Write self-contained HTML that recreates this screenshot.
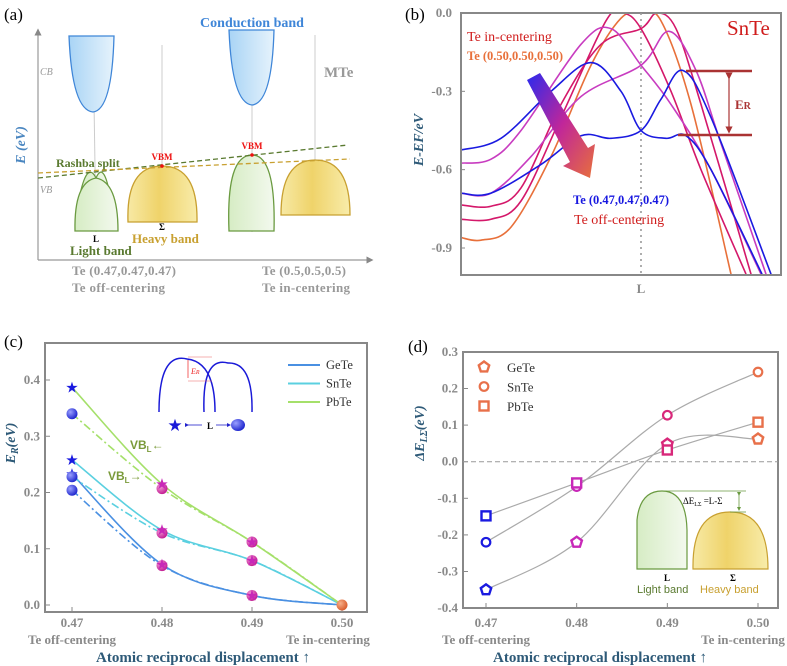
<!DOCTYPE html>
<html><head><meta charset="utf-8">
<style>
body{margin:0;background:#fff}
svg{display:block;font-family:"Liberation Serif",serif}
.tk{fill:#8a8a8a;font-weight:bold;font-size:13px}
.ttl{fill:#2e5a78;font-weight:bold;font-size:14px}
</style></head>
<body>
<svg id="fig" width="787" height="666" viewBox="0 0 787 666">
<defs>
<linearGradient id="cbg" x1="0" x2="1"><stop offset="0" stop-color="#a9d4f5"/><stop offset="1" stop-color="#e6f3fc"/></linearGradient>
<linearGradient id="lbg" x1="0" x2="1"><stop offset="0" stop-color="#d6ecc4"/><stop offset="1" stop-color="#f3f9ee"/></linearGradient>
<linearGradient id="hbg" x1="0" x2="1"><stop offset="0" stop-color="#f7e9a5"/><stop offset="0.45" stop-color="#efd36a"/><stop offset="1" stop-color="#f8ecaa"/></linearGradient>
<linearGradient id="arg" x1="0" y1="0" x2="1" y2="1"><stop offset="0" stop-color="#2a2aee"/><stop offset="0.5" stop-color="#c0269a"/><stop offset="1" stop-color="#e8703a"/></linearGradient>
<radialGradient id="sph" cx="0.35" cy="0.35" r="0.7"><stop offset="0" stop-color="#9aa0ff"/><stop offset="1" stop-color="#1a22cc"/></radialGradient>
<radialGradient id="sphm" cx="0.35" cy="0.35" r="0.7"><stop offset="0" stop-color="#f39ad6"/><stop offset="1" stop-color="#c01890"/></radialGradient>
<radialGradient id="spho" cx="0.35" cy="0.35" r="0.7"><stop offset="0" stop-color="#f7b08a"/><stop offset="1" stop-color="#d85a2a"/></radialGradient>
<marker id="ah" markerWidth="6" markerHeight="6" refX="3" refY="3" orient="auto"><path d="M0,0L6,3L0,6z" fill="#a33"/></marker>
<marker id="ahb" markerWidth="5" markerHeight="5" refX="2.5" refY="2.5" orient="auto"><path d="M0,0L5,2.5L0,5z" fill="#22c"/></marker>
<marker id="ahg" markerWidth="5" markerHeight="5" refX="2.5" refY="2.5" orient="auto"><path d="M0,0L5,2.5L0,5z" fill="#6a9a40"/></marker>
<marker id="ahgray" markerWidth="6" markerHeight="6" refX="3" refY="3" orient="auto"><path d="M0,0L6,3L0,6z" fill="#888"/></marker>
</defs>

<!-- ===== Panel (a) ===== -->
<g>
<text x="4" y="20" font-size="17">(a)</text>
<line x1="38" y1="260" x2="38" y2="32" stroke="#999" stroke-width="1.2" marker-end="url(#ahgray)"/>
<line x1="38" y1="260" x2="370" y2="260" stroke="#999" stroke-width="1.2" marker-end="url(#ahgray)"/>
<text transform="translate(25,145) rotate(-90)" text-anchor="middle" class="ttl" style="font-style:italic;fill:#4a86c0">E (eV)</text>
<text x="40" y="75" font-size="10" font-style="italic" fill="#999">CB</text>
<text x="40" y="193" font-size="10" font-style="italic" fill="#999">VB</text>
<text x="252" y="27" text-anchor="middle" font-size="14" font-weight="bold" fill="#3f86d8">Conduction band</text>
<text x="324" y="77" font-size="15" font-weight="bold" fill="#999">MTe</text>
<g stroke="#ccc" stroke-width="1">
<line x1="93" y1="36" x2="96" y2="232"/><line x1="162" y1="45" x2="162" y2="222"/><line x1="252" y1="30" x2="252" y2="232"/><line x1="315" y1="35" x2="315" y2="215"/>
</g>
<path d="M69,36 L114,36 Q112,110 93,112 Q72,110 69,36Z" fill="url(#cbg)" stroke="#3f86d8" stroke-width="1.3"/>
<path d="M229,30 L274,30 Q272,103 252,105 Q232,103 229,30Z" fill="url(#cbg)" stroke="#3f86d8" stroke-width="1.3"/>
<path d="M81,190 Q88,162 96,178 Q103,162 109,190Z" fill="url(#lbg)" stroke="#6a9a40" stroke-width="1.2"/>
<path d="M75,231 Q74,182 96,178 Q118,182 118,231Z" fill="url(#lbg)" stroke="#6a9a40" stroke-width="1.3"/>
<path d="M128,222 Q126,166 162,166 Q198,166 197,222Z" fill="url(#hbg)" stroke="#c8a030" stroke-width="1.3"/>
<path d="M229,231 Q226,155 252,155 Q276,155 274,231Z" fill="url(#lbg)" stroke="#6a9a40" stroke-width="1.3"/>
<path d="M281,215 Q281,160 315,160 Q350,160 350,215Z" fill="url(#hbg)" stroke="#c8a030" stroke-width="1.3"/>
<line x1="38" y1="178" x2="348" y2="145" stroke="#5a7a30" stroke-width="1.3" stroke-dasharray="5,3"/>
<line x1="38" y1="173" x2="350" y2="159" stroke="#c8a030" stroke-width="1.3" stroke-dasharray="5,3"/>
<circle cx="162" cy="166" r="1.8" fill="#e11"/><circle cx="252" cy="155" r="1.8" fill="#e11"/>
<text x="162" y="160" text-anchor="middle" font-size="9" font-weight="bold" fill="#e11">VBM</text>
<text x="252" y="149" text-anchor="middle" font-size="9" font-weight="bold" fill="#e11">VBM</text>
<text x="56" y="167" font-size="12" font-weight="bold" fill="#5a7a30">Rashba split</text>
<text x="96" y="242" text-anchor="middle" font-size="9" font-weight="bold">L</text>
<text x="162" y="230" text-anchor="middle" font-size="9" font-weight="bold">Σ</text>
<text x="132" y="243" font-size="13" font-weight="bold" fill="#c8a030">Heavy band</text>
<text x="70" y="255" font-size="13" font-weight="bold" fill="#5a7a30">Light band</text>
<g font-size="13" font-weight="bold" fill="#999">
<text x="72" y="275" textLength="104">Te (0.47,0.47,0.47)</text>
<text x="72" y="292" textLength="93">Te off-centering</text>
<text x="262" y="275" textLength="84">Te (0.5,0.5,0.5)</text>
<text x="262" y="292" textLength="88">Te in-centering</text>
</g>
</g>

<!-- ===== Panel (b) ===== -->
<g>
<text x="405" y="20" font-size="17">(b)</text>
<defs><clipPath id="clipb"><rect x="461" y="13" width="320" height="262"/></clipPath></defs>
<g id="bcurves" clip-path="url(#clipb)"></g>
<rect x="461" y="13" width="320" height="262" fill="none" stroke="#888" stroke-width="2"/>
<line x1="641" y1="13" x2="641" y2="275" stroke="#999" stroke-width="1.6" stroke-dasharray="2,4"/>
<g id="bticks"></g>
<text x="641" y="293" text-anchor="middle" class="tk">L</text>
<text transform="translate(423,140) rotate(-90)" text-anchor="middle" class="ttl" font-style="italic">E-EF/eV</text>
<text x="727" y="35" font-size="21" fill="#d01c1c">SnTe</text>
<text x="467" y="41" font-size="14" fill="#d01c1c">Te in-centering</text>
<text x="467" y="60" font-size="12.5" font-weight="bold" fill="#e8703a">Te (0.50,0.50,0.50)</text>
<text x="573" y="204" font-size="12.5" font-weight="bold" fill="#1818e0">Te (0.47,0.47,0.47)</text>
<text x="574" y="224" font-size="14" fill="#d01c1c">Te off-centering</text>
<path d="M527,80 L540,73 L588,148 L595,144 L590,178 L563,166 L570,162 Z" fill="url(#arg)"/>
<line x1="686" y1="71" x2="752" y2="71" stroke="#a33" stroke-width="2.5"/>
<line x1="678" y1="135" x2="752" y2="135" stroke="#a33" stroke-width="2.5"/>
<line x1="729" y1="76" x2="729" y2="130" stroke="#a33" stroke-width="1.2" marker-start="url(#ah)" marker-end="url(#ah)"/>
<text x="735" y="109" font-size="13" font-weight="bold" fill="#a33">E<tspan font-size="10">R</tspan></text>
</g>

<!-- ===== Panel (c) ===== -->
<g>
<text x="4" y="347" font-size="17">(c)</text>
<rect x="45" y="343" width="322" height="269" fill="none" stroke="#888" stroke-width="2"/>
<g id="cplot"></g>
<text transform="translate(15,443) rotate(-90)" text-anchor="middle" class="ttl" font-style="italic">E<tspan font-size="10" dy="3">R</tspan><tspan dy="-3">(eV)</tspan></text>
<text x="72" y="644" text-anchor="middle" class="tk">Te off-centering</text>
<text x="328" y="644" text-anchor="middle" class="tk">Te in-centering</text>
<text x="203" y="662" text-anchor="middle" class="ttl" font-size="15" style="font-size:15px">Atomic reciprocal displacement ↑</text>
<g>
<path d="M159,412 Q159,352 187,359 Q215,362 215,412" fill="none" stroke="#1a1ad8" stroke-width="1.5"/>
<path d="M204,412 Q202,356 228,363 Q253,362 252,412" fill="none" stroke="#1a1ad8" stroke-width="1.5"/>
<line x1="188" y1="357" x2="212" y2="357" stroke="#e66" stroke-width="0.6"/><line x1="188" y1="381" x2="212" y2="381" stroke="#e66" stroke-width="0.6"/>
<line x1="188" y1="360" x2="188" y2="378" stroke="#e22" stroke-width="0.7"/>
<text x="191" y="374" font-size="8" font-style="italic" fill="#e22">E<tspan font-size="6">R</tspan></text>
<text x="175" y="431" text-anchor="middle" font-size="17" fill="#1a1ad8">★</text>
<line x1="187" y1="425" x2="202" y2="425" stroke="#22c" stroke-width="0.8" marker-start="url(#ahb)"/>
<text x="210" y="429" text-anchor="middle" font-size="9" font-weight="bold">L</text>
<line x1="216" y1="425" x2="229" y2="425" stroke="#22c" stroke-width="0.8" marker-end="url(#ahb)"/>
<ellipse cx="238" cy="425" rx="7" ry="6" fill="url(#sph)"/>
</g>
<text x="130" y="449" font-size="12" font-weight="bold" fill="#7a9a3a" font-family="Liberation Sans">VB<tspan font-size="8" dy="3">L</tspan><tspan dy="-3">←</tspan></text>
<text x="108" y="480" font-size="12" font-weight="bold" fill="#7a9a3a" font-family="Liberation Sans">VB<tspan font-size="8" dy="3">L</tspan><tspan dy="-3">→</tspan></text>
<g id="clegend"></g>
</g>

<!-- ===== Panel (d) ===== -->
<g>
<text x="408" y="352" font-size="17">(d)</text>
<rect x="463" y="352" width="315" height="256" fill="none" stroke="#888" stroke-width="2"/>
<g id="dplot"></g>
<text transform="translate(424,433) rotate(-90)" text-anchor="middle" class="ttl" font-style="italic">ΔE<tspan font-size="10" dy="3">LΣ</tspan><tspan dy="-3">(eV)</tspan></text>
<text x="486" y="644" text-anchor="middle" class="tk">Te off-centering</text>
<text x="743" y="644" text-anchor="middle" class="tk">Te in-centering</text>
<text x="600" y="662" text-anchor="middle" class="ttl" style="font-size:15px">Atomic reciprocal displacement ↑</text>
<g>
<path d="M637,569 L637,520 Q640,491 662,491 Q686,491 687,530 L687,569Z" fill="url(#lbg)" stroke="#6a9a40" stroke-width="1.2"/>
<path d="M693,569 Q692,512 730,512 Q768,512 768,569Z" fill="url(#hbg)" stroke="#c8a030" stroke-width="1.2"/>
<line x1="662" y1="491" x2="746" y2="491" stroke="#6a9a40" stroke-width="0.8"/>
<line x1="730" y1="512" x2="746" y2="512" stroke="#6a9a40" stroke-width="0.8"/>
<line x1="739" y1="494" x2="739" y2="509" stroke="#6a9a40" stroke-width="0.8" marker-start="url(#ahg)" marker-end="url(#ahg)"/>
<text x="683" y="504" font-size="9">ΔE<tspan font-size="6" dy="2">LΣ</tspan><tspan dy="-2"> =L-Σ</tspan></text>
<text x="667" y="581" text-anchor="middle" font-size="9" font-weight="bold">L</text>
<text x="733" y="581" text-anchor="middle" font-size="9" font-weight="bold">Σ</text>
<text x="637" y="593" font-size="11" fill="#5a7a30" font-family="Liberation Sans">Light band</text>
<text x="700" y="593" font-size="11" fill="#c8a030" font-family="Liberation Sans">Heavy band</text>
</g>
<g id="dlegend"></g>
</g>
</svg>

<script>
// ---------- Panel (b) band data (k relative to L, energy in eV) ----------
const bandNames = ["orange-050","crimson-049a","crimson-049b","magenta-048a","magenta-048b","blue-047a","blue-047b"];
const bandColors = ["#e8703a","#d4186a","#d4186a","#c83cc0","#c83cc0","#1a1ae0","#1a1ae0"];
const bandK = [
 [-1.8,-1.6,-1.3,-0.9,-0.5,-0.2,0,0.2,0.5,0.9],
 [-1.8,-1.5,-1.2,-0.8,-0.35,-0.18,0,0.3,0.6,1.05],
 [-1.8,-1.5,-1.2,-0.8,-0.4,0,0.16,0.35,0.6,1.1],
 [-1.8,-1.5,-1.2,-0.6,-0.3,0,0.3,0.7,1.2],
 [-1.8,-1.5,-1.1,-0.6,0,0.28,0.55,0.8,1.25],
 [-1.8,-1.4,-0.9,-0.5,-0.2,0,0.25,0.45,0.7,1.21],
 [-1.8,-1.5,-1.0,-0.6,-0.3,0,0.2,0.42,0.7,1.3]
];
const bandE = [
 [-0.86,-0.87,-0.82,-0.55,-0.2,-0.02,0,-0.03,-0.35,-1.0],
 [-0.79,-0.79,-0.72,-0.4,-0.03,0,-0.06,-0.3,-0.6,-1.0],
 [-0.735,-0.74,-0.67,-0.35,-0.12,-0.06,0,-0.06,-0.35,-1.0],
 [-0.575,-0.56,-0.45,-0.12,-0.06,-0.2,-0.35,-0.6,-1.0],
 [-0.69,-0.69,-0.55,-0.32,-0.2,-0.07,-0.22,-0.5,-1.0],
 [-0.525,-0.48,-0.3,-0.19,-0.3,-0.45,-0.48,-0.47,-0.6,-1.0],
 [-0.69,-0.69,-0.58,-0.47,-0.48,-0.45,-0.33,-0.22,-0.4,-1.0]
];
const bTicks = [0.0,-0.3,-0.6,-0.9];

// ---------- Panel (c) data ----------
const cX = [0.47,0.48,0.49,0.50];
const cTicksY = [0.0,0.1,0.2,0.3,0.4];
const cSeriesNames = ["GeTe","SnTe","PbTe"];
const cColors = ["#4a90e2","#5bd0e0","#a5e06a"];
const gete_left = [0.233,0.072,0.017,0.0];
const gete_right = [0.204,0.070,0.017,0.0];
const snte_left = [0.258,0.133,0.079,0.0];
const snte_right = [0.228,0.128,0.079,0.0];
const pbte_left = [0.387,0.215,0.112,0.0];
const pbte_right = [0.340,0.207,0.112,0.0];

// ---------- Panel (d) data ----------
const dX = [0.47,0.48,0.49,0.50];
const dTicksY = [0.3,0.2,0.1,0.0,-0.1,-0.2,-0.3,-0.4];
const dNames = ["GeTe","SnTe","PbTe"];
const gete_dE = [-0.35,-0.22,0.048,0.062];
const snte_dE = [-0.22,-0.068,0.127,0.245];
const pbte_dE = [-0.148,-0.058,0.032,0.108];
const pointColors = ["#1a1ae0","#c828b8","#d8287a","#e8704a"];

const NS="http://www.w3.org/2000/svg";
function mk(tag,attrs,parent){const e=document.createElementNS(NS,tag);for(const k in attrs)e.setAttribute(k,attrs[k]);parent.appendChild(e);return e;}
function smooth(pts){
  let d="M"+pts[0][0]+","+pts[0][1];
  for(let i=0;i<pts.length-1;i++){
    const p0=pts[i-1]||pts[i],p1=pts[i],p2=pts[i+1],p3=pts[i+2]||p2;
    const c1=[p1[0]+(p2[0]-p0[0])/6,p1[1]+(p2[1]-p0[1])/6];
    const c2=[p2[0]-(p3[0]-p1[0])/6,p2[1]-(p3[1]-p1[1])/6];
    d+=" C"+c1[0]+","+c1[1]+" "+c2[0]+","+c2[1]+" "+p2[0]+","+p2[1];
  }
  return d;
}

// ---- (b)
const bx=k=>641+k*100, by=e=>13-e*261.1;
const bg=document.getElementById("bcurves");
bandK.forEach((ks,i)=>{
  const p=mk("path",{d:smooth(ks.map((k,j)=>[bx(k),by(bandE[i][j])])),fill:"none",stroke:bandColors[i],"stroke-width":1.6},bg);
  
  
});
const bt=document.getElementById("bticks");
bTicks.forEach(v=>{
  const t=mk("text",{x:452,y:by(v)+4,"text-anchor":"end",class:"tk"},bt);t.textContent=v.toFixed(1);
  
  
  mk("line",{x1:461,x2:465,y1:by(v),y2:by(v),stroke:"#888"},bt);
});

// ---- (c)
const cx=v=>72+(v-0.47)*9000, cy=v=>605-v*562.5;
const cg=document.getElementById("cplot");
cTicksY.forEach(v=>{
  mk("line",{x1:45,x2:50,y1:cy(v),y2:cy(v),stroke:"#888"},cg);
  const t=mk("text",{x:40,y:cy(v)+4,"text-anchor":"end",class:"tk"},cg);t.textContent=v.toFixed(1);
  
  
});
cX.forEach(v=>{
  mk("line",{x1:cx(v),x2:cx(v),y1:612,y2:607,stroke:"#888"},cg);
  const t=mk("text",{x:cx(v),y:627,"text-anchor":"middle",class:"tk"},cg);t.textContent=v.toFixed(2);
  
  
});
const cLeft=[gete_left,snte_left,pbte_left], cRight=[gete_right,snte_right,pbte_right];
[0,1,2].forEach(i=>{
  const a=mk("path",{d:smooth(cX.map((x,j)=>[cx(x),cy(cRight[i][j])])),fill:"none",stroke:cColors[i],"stroke-width":1.6,"stroke-dasharray":"8,3,2,3"},cg);
  
  
  const b=mk("path",{d:smooth(cX.map((x,j)=>[cx(x),cy(cLeft[i][j])])),fill:"none",stroke:cColors[i],"stroke-width":1.6},cg);
  
  
});
[0,1,2].forEach(i=>{
  cX.forEach((x,j)=>{
    if(j===3) return;
    const fill=j===0?"url(#sph)":"url(#sphm)";
    const s=mk("circle",{cx:cx(x),cy:cy(cRight[i][j]),r:5.5,fill:fill},cg);
    
    
    const st=mk("text",{x:cx(x),y:cy(cLeft[i][j])+5,"text-anchor":"middle","font-size":15,fill:j===0?"#1a1ae0":"#c828b8"},cg);
    st.textContent="★";
    
    
  });
});
const endPt=mk("circle",{cx:cx(0.50),cy:cy(0),r:5.5,fill:"url(#spho)"},cg);


const cl=document.getElementById("clegend");
cSeriesNames.forEach((n,i)=>{
  const y=365+i*18.5;
  const l=mk("line",{x1:288,x2:320,y1:y,y2:y,stroke:cColors[i],"stroke-width":2},cl);
  
  
  const t=mk("text",{x:326,y:y+4,"font-size":12.5,fill:"#333"},cl);t.textContent=n;
  
  
});

// ---- (d)
const dx=v=>486+(v-0.47)*9067, dy=v=>461.7-v*366;
const dg=document.getElementById("dplot");
dTicksY.forEach(v=>{
  mk("line",{x1:463,x2:468,y1:dy(v),y2:dy(v),stroke:"#888"},dg);
  const t=mk("text",{x:458,y:dy(v)+4,"text-anchor":"end",class:"tk"},dg);t.textContent=v.toFixed(1);
  
  
});
dX.forEach(v=>{
  mk("line",{x1:dx(v),x2:dx(v),y1:608,y2:603,stroke:"#888"},dg);
  const t=mk("text",{x:dx(v),y:627,"text-anchor":"middle",class:"tk"},dg);t.textContent=v.toFixed(2);
  
  
});
const zl=mk("line",{x1:463,x2:778,y1:dy(0),y2:dy(0),stroke:"#999","stroke-dasharray":"5,3"},dg);


const dSeries=[gete_dE,snte_dE,pbte_dE];
dSeries.forEach((s,i)=>{
  const p=mk("path",{d:smooth(dX.map((x,j)=>[dx(x),dy(s[j])])),fill:"none",stroke:"#aaa","stroke-width":1.2},dg);
  
  
});
function marker(type,x,y,color,parent){
  let e;
  if(type===0){
    let pts=[];for(let a=0;a<5;a++){const t=-Math.PI/2+a*2*Math.PI/5;pts.push((x+5.5*Math.cos(t)).toFixed(1)+","+(y+5.5*Math.sin(t)).toFixed(1));}
    e=mk("polygon",{points:pts.join(" "),fill:"#fff",stroke:color,"stroke-width":2.4},parent);
  }else if(type===1){
    e=mk("circle",{cx:x,cy:y,r:4.3,fill:"#fff",stroke:color,"stroke-width":2.2},parent);
  }else{
    e=mk("rect",{x:x-4.5,y:y-4.5,width:9,height:9,fill:"#fff",stroke:color,"stroke-width":2.4},parent);
  }
  return e;
}
dSeries.forEach((s,i)=>{
  dX.forEach((x,j)=>{
    const m=marker(i,dx(x),dy(s[j]),pointColors[j],dg);
    
    
  });
});
const dl=document.getElementById("dlegend");
dNames.forEach((n,i)=>{
  const y=367+i*19.5;
  const m=marker(i,484,y,"#e8704a",dl);
  
  
  const t=mk("text",{x:507,y:y+5,"font-size":13,fill:"#333"},dl);t.textContent=n;
  
  
});
</script>
</body></html>
